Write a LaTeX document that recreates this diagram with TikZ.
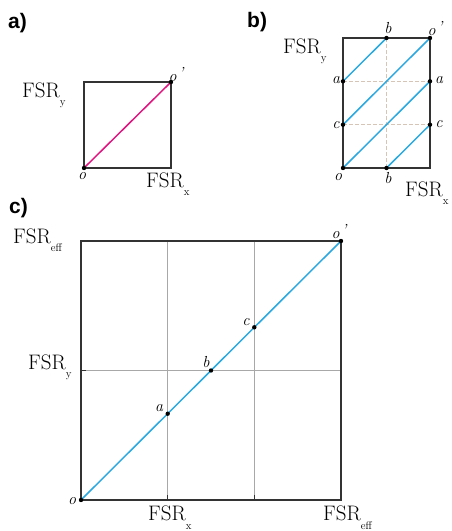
\documentclass[tikz,border=0pt]{standalone}
\usepackage{fontspec}
\newfontfamily\panelfont{Liberation Sans}
\definecolor{framecol}{HTML}{333333}
\definecolor{gridcol}{HTML}{A8A8A8}
\definecolor{pinkcol}{HTML}{E0157F}
\definecolor{bluecol}{HTML}{2AA8E0}
\definecolor{dashcol}{HTML}{D6C4B6}
\newcommand{\fsr}[1]{\fontsize{21}{24}\selectfont FSR\raisebox{-8.5pt}{\fontsize{11}{12}\selectfont #1}}
\newcommand{\oprm}{o\kern2pt\raisebox{3pt}{'}}
\begin{document}
\begin{tikzpicture}[x=1pt,y=-1pt,
  frame/.style={draw=framecol,line width=1.1pt},
  gridline/.style={draw=gridcol,line width=0.8pt},
  tickline/.style={draw=framecol,line width=0.9pt},
  pinkline/.style={draw=pinkcol,line width=1.5pt},
  blueline/.style={draw=bluecol,line width=1.5pt},
  dashline/.style={draw=dashcol,line width=1.1pt,dash pattern=on 4pt off 2pt},
  dot/.style={circle,fill=black,inner sep=0pt,minimum size=4.4pt},
  fsrlbl/.style={anchor=base west,inner sep=0pt},
  ptlbl/.style={inner sep=0pt,font=\itshape\fontsize{16}{18}\selectfont},
  panellbl/.style={anchor=base west,inner sep=0pt,font=\panelfont\bfseries\fontsize{21}{24}\selectfont}]
\useasboundingbox (0,0) rectangle (452,531);

% ---------- panel a ----------
\node[panellbl] (la) at (8,28.5) {a)};
\coordinate (aO) at (84,168);
\coordinate (aP) at (171,82);
\draw[frame] (84,82) rectangle (171,168);
\draw[pinkline] (aO) -- (aP);
\node[dot] (aOd) at (aO) {};
\node[dot] (aPd) at (aP) {};
\node[ptlbl] (aOl) at (82,176) {o};
\node[ptlbl] (aPl) at (176,75) {\oprm};
\node[fsrlbl] (aFy) at (22,97) {\fsr{y}};
\node[fsrlbl] (aFx) at (146,187) {\fsr{x}};

% ---------- panel b ----------
\node[panellbl] (lb) at (247,27.5) {b)};
\coordinate (bO) at (343,168);
\coordinate (bP) at (430,38);
\coordinate (bAl) at (343,81.3);
\coordinate (bAr) at (430,81.3);
\coordinate (bCl) at (343,124.7);
\coordinate (bCr) at (430,124.7);
\coordinate (bBt) at (386.5,38);
\coordinate (bBb) at (386.5,168);
\draw[dashline] (bAl) -- (bAr);
\draw[dashline] (bCl) -- (bCr);
\draw[dashline] (bBt) -- (bBb);
\draw[frame] (343,38) rectangle (430,168);
\draw[blueline] (bAl) -- (bBt);
\draw[blueline] (bCl) -- (bP);
\draw[blueline] (bO) -- (bAr);
\draw[blueline] (bBb) -- (bCr);
\foreach \p in {bO,bP,bAl,bAr,bCl,bCr,bBt,bBb} \node[dot] (\p d) at (\p) {};
\node[ptlbl] (bOl) at (338,177) {o};
\node[ptlbl] (bPl) at (435,29) {\oprm};
\node[ptlbl] (bAll) at (336,80) {a};
\node[ptlbl] (bArl) at (439,80) {a};
\node[ptlbl] (bCll) at (336,125) {c};
\node[ptlbl] (bCrl) at (439,124.5) {c};
\node[ptlbl] (bBtl) at (388,28) {b};
\node[ptlbl] (bBbl) at (388,178) {b};
\node[fsrlbl] (bFy) at (283,53) {\fsr{y}};
\node[fsrlbl] (bFx) at (405,196) {\fsr{x}};

% ---------- panel c ----------
\node[panellbl] (lc) at (9,213.5) {c)};
\coordinate (cO) at (81,500);
\coordinate (cP) at (341,241);
\coordinate (cA) at (167.7,413.7);
\coordinate (cB) at (211,370.5);
\coordinate (cC) at (254.3,327.3);
\coordinate (cV1t) at (167.7,241);
\coordinate (cV1b) at (167.7,500);
\coordinate (cV2t) at (254.3,241);
\coordinate (cV2b) at (254.3,500);
\coordinate (cHl) at (81,370.5);
\coordinate (cHr) at (341,370.5);
\draw[gridline] (cV1t) -- (cV1b);
\draw[gridline] (cV2t) -- (cV2b);
\draw[gridline] (cHl) -- (cHr);
\draw[tickline] (cV1b) -- ++(0,-5);
\draw[tickline] (cV2b) -- ++(0,-5);
\draw[tickline] (cHl) -- ++(5,0);
\draw[frame] (81,241) rectangle (341,500);
\draw[blueline] (cO) -- (cP);
\foreach \p in {cO,cP,cA,cB,cC} \node[dot] (\p d) at (\p) {};
\node[ptlbl] (cOl) at (72,501) {o};
\node[ptlbl] (cPl) at (339,232) {\oprm};
\node[ptlbl] (cAl) at (159,408) {a};
\node[ptlbl] (cBl) at (206,362) {b};
\node[ptlbl] (cCl) at (246,322) {c};
\node[fsrlbl] (cFe) at (13,243) {\fsr{eff}};
\node[fsrlbl] (cFy) at (28,369) {\fsr{y}};
\node[fsrlbl] (cFx) at (148,520.5) {\fsr{x}};
\node[fsrlbl] (cFe2) at (323,520.5) {\fsr{eff}};
\end{tikzpicture}
\end{document}
